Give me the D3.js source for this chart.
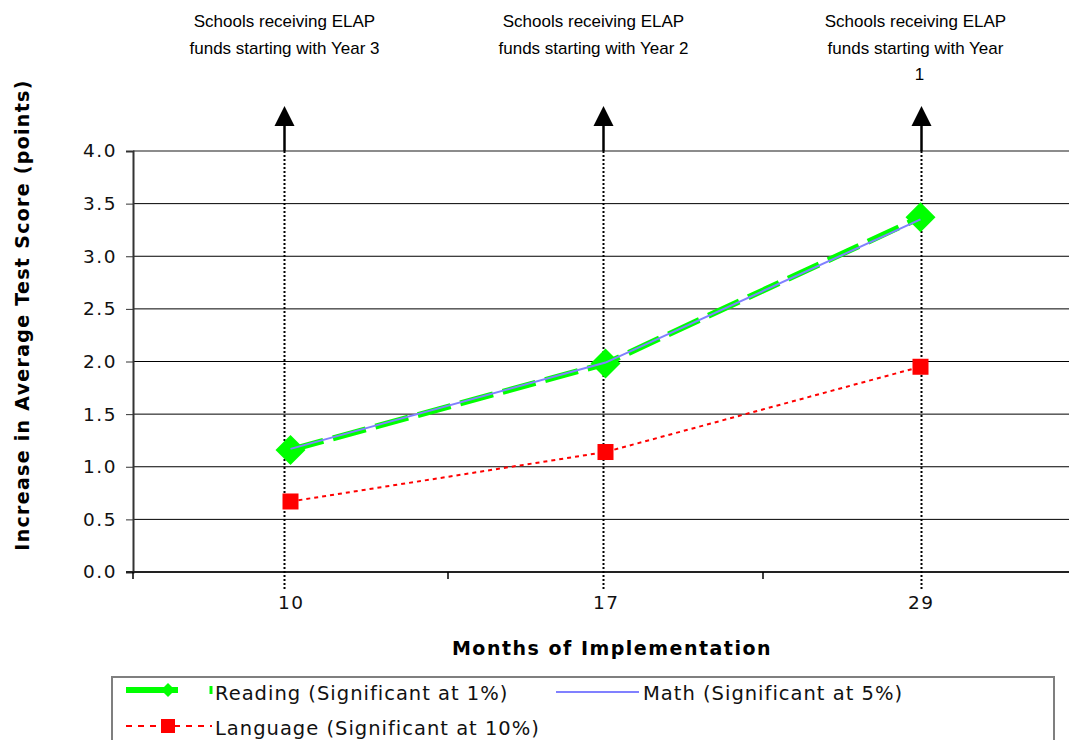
<!DOCTYPE html>
<html><head><meta charset="utf-8">
<script src="https://cdn.jsdelivr.net/npm/d3@7"></script>
<style>body{margin:0;background:#fff;} svg{display:block;}</style>
</head><body>
<script>
const months = ["10", "17", "29"];
const reading = [1.16, 1.98, 3.37];
const math = [1.17, 1.99, 3.35];
const language = [0.67, 1.14, 1.95];
const yTicks = [0, 0.5, 1, 1.5, 2, 2.5, 3, 3.5, 4];
const annotations = [
  ["Schools receiving ELAP", "funds starting with Year 3"],
  ["Schools receiving ELAP", "funds starting with Year 2"],
  ["Schools receiving ELAP", "funds starting with Year", "1"]
];
const legendLabels = ["Reading (Significant at 1%)", "Math (Significant at 5%)", "Language (Significant at 10%)"];

(function () {
const W = 1069, H = 740;
const svg = d3.select("body").append("svg").attr("width", W).attr("height", H);
const pL = 133, pR = 1078, pT = 151, pB = 572;
const x = d3.scaleBand().domain(months).range([pL, pR]);
const y = d3.scaleLinear().domain([0, 4]).range([pB, pT]);
const font = "'DejaVu Sans', Verdana, sans-serif";

// gridlines
svg.append("g").selectAll("line").data(yTicks.filter(d => d > 0 && d < 4)).join("line")
  .attr("x1", pL).attr("x2", W).attr("y1", d => y(d)).attr("y2", d => y(d))
  .attr("stroke", "#000").attr("stroke-width", 1);
svg.append("line").attr("x1", pL).attr("x2", W).attr("y1", y(4)).attr("y2", y(4))
  .attr("stroke", "#8c8c8c").attr("stroke-width", 2);

// y axis
const ya = svg.append("g").attr("transform", `translate(${pL},0)`)
  .call(d3.axisLeft(y).tickValues(yTicks).tickFormat(d3.format(".1f")).tickSize(7).tickPadding(9));
ya.select(".domain").attr("stroke", "#333").attr("stroke-width", 2);
ya.selectAll(".tick line").attr("stroke", "#333");
ya.selectAll("text").attr("font-family", font).attr("font-size", 18.5).attr("letter-spacing", 1.5).attr("fill", "#111");

// x axis
const xa = svg.append("g").attr("transform", `translate(0,${pB})`)
  .call(d3.axisBottom(x).tickSize(0).tickPadding(24));
xa.select(".domain").remove();
xa.selectAll("text").attr("font-family", font).attr("font-size", 18.5).attr("letter-spacing", 1.5).attr("fill", "#111")
  .attr("dx", 0.75);
svg.append("line").attr("x1", pL - 7).attr("x2", W).attr("y1", pB).attr("y2", pB)
  .attr("stroke", "#222").attr("stroke-width", 2);
const bnd = months.map(m => x(m)).concat([x(months[months.length - 1]) + x.bandwidth()]);
svg.append("g").selectAll("line").data(bnd).join("line")
  .attr("x1", d => d).attr("x2", d => d).attr("y1", pB).attr("y2", pB + 7)
  .attr("stroke", "#000").attr("stroke-width", 1.5);

// annotations
const cx = m => x(m) + x.bandwidth() / 2;
const arrowOff = [-6, -2, 1];
const textOff = [0, -10, -6];
months.forEach((m, i) => {
  const ax = cx(m) + arrowOff[i];
  svg.append("line").attr("x1", ax).attr("x2", ax).attr("y1", pT).attr("y2", 590)
    .attr("stroke", "#000").attr("stroke-width", 2).attr("stroke-dasharray", "2,2");
  svg.append("line").attr("x1", ax).attr("x2", ax).attr("y1", 122).attr("y2", pT)
    .attr("stroke", "#000").attr("stroke-width", 2.5);
  svg.append("path").attr("d", `M${ax},106 L${ax - 10},126 L${ax + 10},126 Z`).attr("fill", "#000");
  const t = svg.append("text").attr("text-anchor", "middle").attr("font-family", "'Liberation Sans', Arial, sans-serif")
    .attr("font-size", 17).attr("fill", "#000");
  annotations[i].forEach((s, j) => t.append("tspan").attr("x", ax + textOff[i] + (j === 2 ? 4 : 0)).attr("y", 27 + j * 26.5).text(s));
});

// lines
const line = vals => d3.line().x((d, i) => cx(months[i])).y(d => y(d))(vals);
svg.append("path").attr("d", line(reading)).attr("fill", "none").attr("stroke", "#00ff00")
  .attr("stroke-width", 6).attr("stroke-dasharray", "34,10");
svg.append("path").attr("d", line(language)).attr("fill", "none").attr("stroke", "#ff0000")
  .attr("stroke-width", 2).attr("stroke-dasharray", "4,4");
svg.append("g").selectAll("path").data(reading).join("path")
  .attr("d", (d, i) => { const px = cx(months[i]), py = y(d); return `M${px},${py - 15}L${px + 15},${py}L${px},${py + 15}L${px - 15},${py}Z`; })
  .attr("fill", "#00ff00");
svg.append("path").attr("d", line(math)).attr("fill", "none").attr("stroke", "#8080ff").attr("stroke-width", 2);
svg.append("g").selectAll("rect").data(language).join("rect")
  .attr("x", (d, i) => cx(months[i]) - 8).attr("y", d => y(d) - 8).attr("width", 16).attr("height", 16)
  .attr("fill", "#ff0000");

// axis titles
svg.append("text").attr("x", 612).attr("y", 655).attr("text-anchor", "middle")
  .attr("font-family", font).attr("font-weight", "bold").attr("font-size", 19).attr("letter-spacing", 1.5)
  .text("Months of Implementation");
svg.append("text").attr("transform", `translate(29,315) rotate(-90)`).attr("text-anchor", "middle")
  .attr("font-family", font).attr("font-weight", "bold").attr("font-size", 19).attr("letter-spacing", 1.3)
  .text("Increase in Average Test Score (points)");

// legend
svg.append("rect").attr("x", 112).attr("y", 677).attr("width", 942).attr("height", 80)
  .attr("fill", "none").attr("stroke", "#7f7f7f").attr("stroke-width", 2);
const lg = svg.append("g").attr("font-family", font).attr("font-size", 19.5).attr("letter-spacing", 1).attr("fill", "#111");
svg.append("line").attr("x1", 126).attr("x2", 178).attr("y1", 690).attr("y2", 690).attr("stroke", "#00ff00").attr("stroke-width", 6);
svg.append("path").attr("d", "M168,683L175,690L168,697L161,690Z").attr("fill", "#00ff00");
svg.append("line").attr("x1", 211).attr("x2", 211).attr("y1", 686).attr("y2", 694).attr("stroke", "#00ff00").attr("stroke-width", 3);
lg.append("text").attr("x", 215).attr("y", 700).text(legendLabels[0]);
svg.append("line").attr("x1", 556).attr("x2", 639).attr("y1", 692).attr("y2", 692).attr("stroke", "#8080ff").attr("stroke-width", 2);
lg.append("text").attr("x", 643).attr("y", 700).text(legendLabels[1]);
svg.append("line").attr("x1", 126).attr("x2", 212).attr("y1", 726).attr("y2", 726).attr("stroke", "#ff0000").attr("stroke-width", 2).attr("stroke-dasharray", "6,6");
svg.append("rect").attr("x", 161).attr("y", 719).attr("width", 14).attr("height", 14).attr("fill", "#ff0000");
lg.append("text").attr("x", 215).attr("y", 735).text(legendLabels[2]);
})();
</script>
</body></html>
